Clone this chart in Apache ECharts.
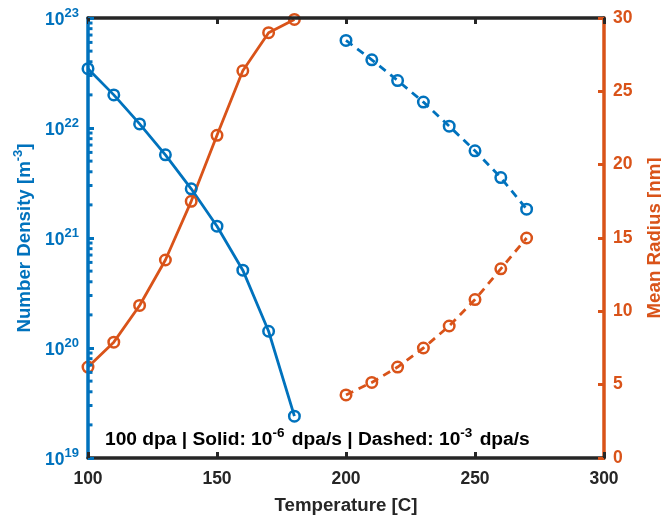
<!DOCTYPE html>
<html>
<head>
<meta charset="utf-8">
<script src="https://cdn.jsdelivr.net/npm/echarts@6/dist/echarts.min.js"></script>
<style>
  html, body { margin: 0; padding: 0; background: #fff; }
  #chart { width: 661px; height: 519px; }
</style>
</head>
<body>
<div id="chart"></div>
<script>
// Temperatures [C]
const tempSolid = [100, 110, 120, 130, 140, 150, 160, 170, 180];
const tempDashed = [200, 210, 220, 230, 240, 250, 260, 270];

// Number density [m^-3] (left, log axis)
const densitySolid = [3.46e22, 2.0e22, 1.09e22, 5.7e21, 2.8e21, 1.28e21, 5.1e20, 1.42e20, 2.4e19];
const densityDashed = [6.25e22, 4.17e22, 2.7e22, 1.72e22, 1.04e22, 6.2e21, 3.54e21, 1.83e21];

// Mean radius [nm] (right, linear axis)
const radiusSolid = [6.2, 7.9, 10.4, 13.5, 17.5, 22.0, 26.4, 29.0, 29.9];
const radiusDashed = [4.3, 5.15, 6.2, 7.5, 9.0, 10.8, 12.9, 15.0];

// Axis ranges and tick settings
const xRange = [100, 300];
const xStep = 50;
const densityRange = [1e19, 1e23];
const densityDecades = [19, 20, 21, 22];
const minorMantissas = [2, 3, 4, 5, 6, 7, 8, 9];
const radiusRange = [0, 30];
const radiusStep = 5;

const BLUE = '#0072BD';
const ORANGE = '#D95319';
const DARK = '#262626';
const FONT = '"Liberation Sans", Arial, Helvetica, sans-serif';

const pairs = (xs, ys) => xs.map((x, i) => [x, ys[i]]);

// minor ticks of the log axis at 2..9 x 10^n
const minorTicks = [];
densityDecades.forEach(d => minorMantissas.forEach(m => minorTicks.push([xRange[0], m * Math.pow(10, d)])));

const chart = echarts.init(document.getElementById('chart'), null, { renderer: 'canvas' });

const lineSeries = (name, data, color, yIdx, dashed) => ({
  name,
  type: 'line',
  xAxisIndex: 0,
  yAxisIndex: yIdx,
  data,
  symbol: 'circle',
  symbolSize: 10.5,
  showSymbol: true,
  clip: false,
  z: 2,
  lineStyle: { color, width: 2.8, type: dashed ? [8, 6] : 'solid' },
  itemStyle: { color: 'rgba(0,0,0,0)', borderColor: color, borderWidth: 2.5 },
  emphasis: { disabled: true },
  animation: false
});

const option = {
  backgroundColor: '#fff',
  animation: false,
  textStyle: { fontFamily: FONT },
  grid: { left: 88, right: 57, top: 18, bottom: 61, containLabel: false, outerBoundsMode: 'none' },
  xAxis: [
    {
      type: 'value',
      min: xRange[0], max: xRange[1], interval: xStep,
      position: 'bottom',
      name: 'Temperature [C]',
      nameLocation: 'middle',
      nameGap: 38,
      nameTextStyle: { color: DARK, fontSize: 18.7, fontWeight: 'bold', fontFamily: FONT },
      axisLine: { lineStyle: { color: DARK, width: 3.5 } },
      axisTick: { inside: true, length: 6, lineStyle: { color: DARK, width: 3 } },
      axisLabel: { color: DARK, fontSize: 17.5, fontWeight: 'bold', fontFamily: FONT, margin: 12 },
      splitLine: { show: false },
      z: 3
    },
    {
      type: 'value',
      min: xRange[0], max: xRange[1], interval: xStep,
      position: 'top',
      axisLine: { onZero: false, lineStyle: { color: DARK, width: 3.5 } },
      axisTick: { inside: true, length: 6, lineStyle: { color: DARK, width: 3 } },
      axisLabel: { show: false },
      splitLine: { show: false },
      z: 3
    }
  ],
  yAxis: [
    {
      type: 'log',
      logBase: 10,
      min: densityRange[0], max: densityRange[1],
      position: 'left',
      name: '{b|Number Density [m}{s|-3}{b|]}',
      nameLocation: 'middle',
      nameRotate: 90,
      nameGap: 52,
      nameTextStyle: {
        color: BLUE,
        rich: {
          b: { color: BLUE, fontSize: 18.7, fontWeight: 'bold', fontFamily: FONT, verticalAlign: 'bottom' },
          s: { color: BLUE, fontSize: 13, fontWeight: 'bold', fontFamily: FONT, verticalAlign: 'bottom', padding: [0, 0, 9, 0] }
        }
      },
      axisLine: { onZero: false, lineStyle: { color: BLUE, width: 3.5 } },
      axisTick: { inside: true, length: 6, lineStyle: { color: BLUE, width: 3 } },
      axisLabel: {
        margin: 9,
        formatter: v => '{b|10}{s|' + Math.round(Math.log10(v)) + '}',
        rich: {
          b: { color: BLUE, fontSize: 17.5, fontWeight: 'bold', fontFamily: FONT, verticalAlign: 'bottom' },
          s: { color: BLUE, fontSize: 13, fontWeight: 'bold', fontFamily: FONT, verticalAlign: 'bottom', padding: [0, 0, 9, 0] }
        }
      },
      splitLine: { show: false },
      z: 3
    },
    {
      type: 'value',
      min: radiusRange[0], max: radiusRange[1], interval: radiusStep,
      position: 'right',
      name: 'Mean Radius [nm]',
      nameLocation: 'middle',
      nameRotate: 90,
      nameGap: 41,
      nameTextStyle: { color: ORANGE, fontSize: 18.7, fontWeight: 'bold', fontFamily: FONT },
      axisLine: { onZero: false, lineStyle: { color: ORANGE, width: 3.5 } },
      axisTick: { inside: true, length: 6, lineStyle: { color: ORANGE, width: 3 } },
      axisLabel: { color: ORANGE, fontSize: 17.5, fontWeight: 'bold', fontFamily: FONT, margin: 9 },
      splitLine: { show: false },
      z: 3
    }
  ],
  series: [
    lineSeries('Radius, 1e-6 dpa/s', pairs(tempSolid, radiusSolid), ORANGE, 1, false),
    lineSeries('Density, 1e-6 dpa/s', pairs(tempSolid, densitySolid), BLUE, 0, false),
    lineSeries('Radius, 1e-3 dpa/s', pairs(tempDashed, radiusDashed), ORANGE, 1, true),
    lineSeries('Density, 1e-3 dpa/s', pairs(tempDashed, densityDashed), BLUE, 0, true),
    {
      name: 'log minor ticks',
      type: 'custom',
      xAxisIndex: 0,
      yAxisIndex: 0,
      data: minorTicks,
      clip: false,
      silent: true,
      z: 4,
      renderItem: (params, api) => {
        const p = api.coord([api.value(0), api.value(1)]);
        return {
          type: 'line',
          shape: { x1: p[0], y1: p[1], x2: p[0] + 4.5, y2: p[1] },
          style: { stroke: BLUE, lineWidth: 3 }
        };
      }
    }
  ],
  graphic: [
    {
      type: 'text',
      left: 105,
      top: 426,
      z: 10,
      style: {
        text: '{b|100 dpa | Solid: 10}{s|-6}{b| dpa/s | Dashed: 10}{s|-3}{b| dpa/s}',
        rich: {
          b: { fill: '#000', fontSize: 19.2, fontWeight: 'bold', fontFamily: FONT, verticalAlign: 'bottom' },
          s: { fill: '#000', fontSize: 13.5, fontWeight: 'bold', fontFamily: FONT, verticalAlign: 'bottom', padding: [0, 2, 9, 0] }
        }
      }
    }
  ]
};

chart.setOption(option);
</script>
</body>
</html>
